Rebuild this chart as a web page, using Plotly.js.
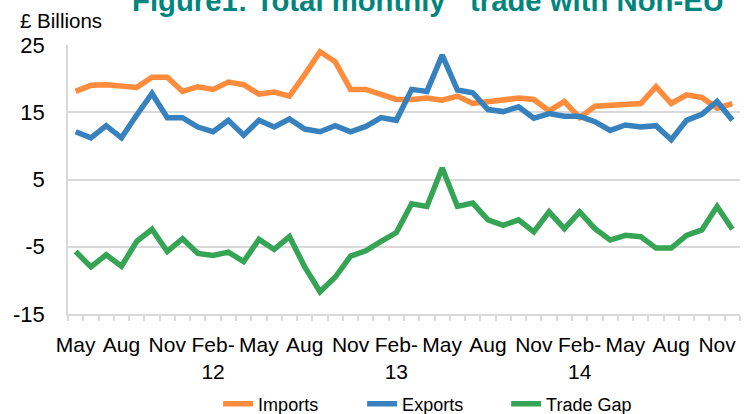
<!DOCTYPE html>
<html>
<head>
<meta charset="utf-8">
<script src="https://cdn.plot.ly/plotly-3.0.1.min.js"></script>
<style>
  html, body { margin: 0; padding: 0; background: #ffffff; }
  #chart { width: 747px; height: 414px; }
</style>
</head>
<body>
<div id="chart"></div>
<script>
const categories = [
  'May-11','Jun-11','Jul-11','Aug-11','Sep-11','Oct-11','Nov-11','Dec-11',
  'Jan-12','Feb-12','Mar-12','Apr-12','May-12','Jun-12','Jul-12','Aug-12','Sep-12','Oct-12','Nov-12','Dec-12',
  'Jan-13','Feb-13','Mar-13','Apr-13','May-13','Jun-13','Jul-13','Aug-13','Sep-13','Oct-13','Nov-13','Dec-13',
  'Jan-14','Feb-14','Mar-14','Apr-14','May-14','Jun-14','Jul-14','Aug-14','Sep-14','Oct-14','Nov-14','Dec-14'
];

const imports = [
  18.1, 19.0, 19.1, 19.0, 18.7, 20.2, 20.2, 18.1,
  18.8, 18.4, 19.5, 19.1, 17.7, 18.0, 17.4, 20.6, 24.0, 22.5, 18.4, 18.4,
  17.6, 16.9, 16.9, 17.1, 16.8, 17.4, 16.3, 16.6, 16.8, 17.1, 16.9, 15.2,
  16.6, 14.2, 15.9, 16.1, 16.3, 16.3, 18.8, 16.3, 17.6, 17.2, 15.6, 16.3
];

const exportsVals = [
  12.1, 11.2, 13.0, 11.2, 14.6, 17.8, 14.2, 14.2,
  12.8, 12.1, 13.8, 11.6, 13.8, 12.8, 14.0, 12.5, 12.1, 13.0, 12.1, 12.9,
  14.2, 13.8, 18.4, 18.1, 23.5, 18.3, 17.9, 15.4, 15.1, 15.8, 14.1, 14.8,
  14.4, 14.4, 13.6, 12.3, 13.1, 12.8, 13.0, 10.9, 13.8, 14.7, 16.6, 13.8
];

const tradeGap = [
  -5.7, -8.0, -6.2, -7.9, -4.2, -2.4, -5.7, -3.8,
  -6.0, -6.3, -5.8, -7.2, -3.9, -5.4, -3.5, -8.0, -11.7, -9.5, -6.4, -5.6,
  -4.2, -2.9, 1.4, 1.0, 6.7, 1.0, 1.5, -1.0, -1.8, -1.0, -2.8, 0.2,
  -2.3, 0.2, -2.3, -4.0, -3.3, -3.5, -5.2, -5.2, -3.3, -2.5, 1.0, -2.4
];

// shown every third month, starting May 2011
const tickLabels = ['May','Aug','Nov','Feb-<br>12','May','Aug','Nov','Feb-<br>13','May','Aug','Nov','Feb-<br>14','May','Aug','Nov'];
const yTicks = [-15, -5, 5, 15, 25];

const seriesNames = ['Imports', 'Exports', 'Trade Gap'];
const seriesColors = ['#FF8C3C', '#3782BE', '#35A555'];

const ticktext = categories.map((c, i) => (i % 3 === 0 ? tickLabels[i / 3] : ''));

const FONT = 'Liberation Sans, Arial, sans-serif';
const GRID = '#D9D9D9';

const traces = [imports, exportsVals, tradeGap].map((vals, k) => ({
  type: 'scatter',
  mode: 'lines',
  name: seriesNames[k],
  x: categories,
  y: vals,
  line: { color: seriesColors[k], width: 5.5 },
  hoverinfo: 'x+y+name'
}));

const layout = {
  width: 747,
  height: 414,
  margin: { l: 68, r: 7, t: 45, b: 100, autoexpand: false },
  paper_bgcolor: '#ffffff',
  plot_bgcolor: '#ffffff',
  font: { family: FONT, color: '#000000' },
  showlegend: true,
  legend: {
    orientation: 'h',
    xref: 'container',
    yref: 'container',
    x: 0.292,
    xanchor: 'left',
    y: 0.024,
    yanchor: 'middle',
    font: { family: FONT, size: 18, color: '#000000' },
    entrywidth: 99,
    bgcolor: 'rgba(0,0,0,0)'
  },
  xaxis: {
    type: 'category',
    categoryorder: 'array',
    categoryarray: categories,
    range: [-0.5, categories.length - 0.5],
    tickmode: 'array',
    tickvals: categories,
    ticktext: ticktext,
    tickangle: 0,
    tickson: 'boundaries',
    ticks: 'outside',
    ticklen: 5,
    tickwidth: 1.5,
    tickcolor: GRID,
    showgrid: false,
    showline: true,
    linecolor: GRID,
    linewidth: 1.5,
    zeroline: false,
    automargin: false,
    tickfont: { family: FONT, size: 21, color: '#000000' },
    ticklabelstandoff: 11,
    fixedrange: true
  },
  yaxis: {
    range: [-15, 25],
    tickmode: 'array',
    tickvals: yTicks,
    ticktext: yTicks.map(String),
    ticks: '',
    showgrid: true,
    gridcolor: GRID,
    gridwidth: 1.5,
    showline: true,
    linecolor: GRID,
    linewidth: 1.5,
    zeroline: false,
    automargin: false,
    tickfont: { family: FONT, size: 22, color: '#000000' },
    ticklabelstandoff: 17,
    fixedrange: true
  },
  annotations: [
    {
      text: 'Figure1: Total monthly  \u2018trade with Non-EU',
      xref: 'paper', yref: 'paper',
      x: 0.0923, xanchor: 'left',
      y: 1.167, yanchor: 'middle',
      showarrow: false,
      font: { family: FONT, size: 29.3, color: '#00857E', weight: 'bold' }
    },
    {
      text: '£ Billions',
      xref: 'paper', yref: 'paper',
      x: -0.0744, xanchor: 'left',
      y: 1.09, yanchor: 'middle',
      showarrow: false,
      font: { family: FONT, size: 20.5, color: '#000000' }
    }
  ]
};

Plotly.newPlot('chart', traces, layout, { displayModeBar: false, staticPlot: false, responsive: false });
</script>
</body>
</html>
